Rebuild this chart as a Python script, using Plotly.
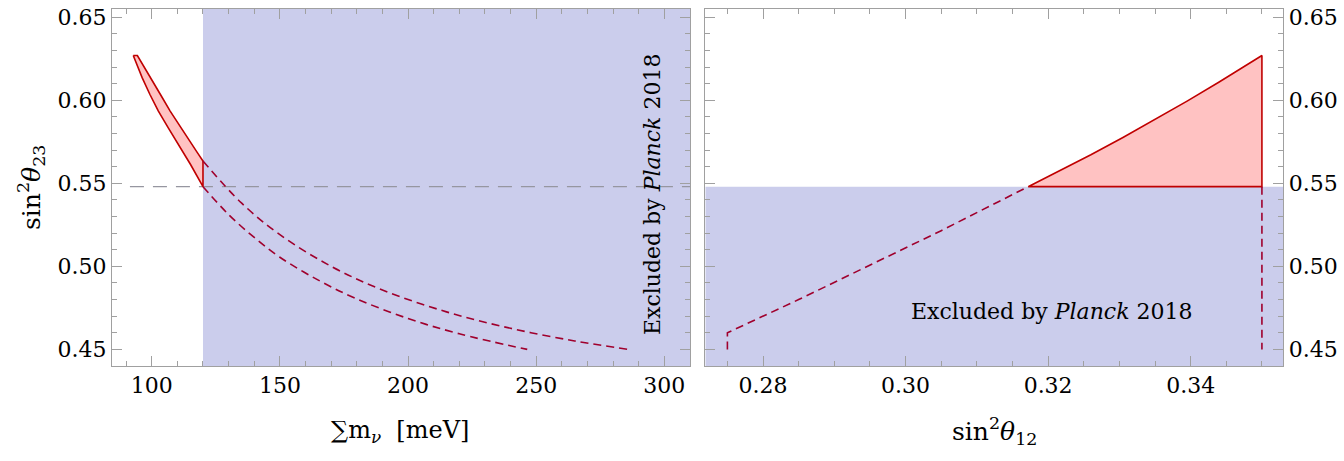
import plotly.graph_objects as go

# ---------------- data ----------------
# Left panel: sum of neutrino masses [meV] vs sin^2(theta23)
allowed_lower_mass = [92.8, 94.5, 96.3, 99.3, 102.6, 106.4, 110.4, 115.2, 120.0]
allowed_lower_s23 = [0.627, 0.620, 0.6135, 0.6035, 0.5935, 0.5835, 0.5735, 0.5612, 0.548]
allowed_upper_mass = [120.0, 117.8, 115.7, 111.4, 107.2, 103.4, 99.7, 97.0, 94.4]
allowed_upper_s23 = [0.5635, 0.5685, 0.5735, 0.5835, 0.5935, 0.6035, 0.6135, 0.620, 0.627]

excl_lower_mass = [120.0, 130.0, 140.0, 150.0, 165.0, 180.0, 200.0, 220.0, 246.5]
excl_lower_s23 = [0.548, 0.5312, 0.5174, 0.5055, 0.4917, 0.4804, 0.4686, 0.4594, 0.450]
excl_upper_mass = [120.0, 135.0, 150.0, 170.0, 190.0, 215.0, 240.0, 265.0, 285.9]
excl_upper_s23 = [0.5635, 0.5382, 0.5191, 0.5000, 0.4858, 0.4726, 0.4627, 0.4551, 0.450]

planck_mass_bound = 120.0
s23_bound = 0.548
ref_line_mass = [91.5, 310.0]

# Right panel: sin^2(theta12) vs sin^2(theta23)
allowed_s12 = [0.3172, 0.3215, 0.3260, 0.3305, 0.3350, 0.3395, 0.3440, 0.3470, 0.3500, 0.3500]
allowed_s23 = [0.548, 0.5572, 0.5672, 0.5776, 0.5884, 0.5995, 0.6110, 0.6189, 0.627, 0.548]
excl_s12 = [0.2750, 0.2750, 0.2850, 0.2950, 0.3050, 0.3172]
excl_s23 = [0.450, 0.460, 0.480, 0.5005, 0.5215, 0.548]
edge_s12 = [0.3500, 0.3500]
edge_s23 = [0.548, 0.450]

mass_range = [84.5, 310.0]
s12_range = [0.2719, 0.3530]
s23_range = [0.440, 0.655]

mass_ticks = [100, 150, 200, 250, 300]
s12_ticks = [0.28, 0.30, 0.32, 0.34]
s23_ticks = [0.45, 0.50, 0.55, 0.60, 0.65]

label_text = "Excluded by <i>Planck</i> 2018"

# ---------------- style ----------------
BLUE = "rgb(203,205,236)"
PINK = "rgb(255,194,194)"
RED = "rgb(192,0,0)"
DASHRED = "rgb(160,0,45)"
GRAY = "rgb(150,150,160)"
AXC = "rgb(160,160,160)"
FONT = "DejaVu Serif"

fig = go.Figure()

# left panel
fig.add_trace(go.Scatter(
    x=[planck_mass_bound, mass_range[1], mass_range[1], planck_mass_bound],
    y=[s23_range[0], s23_range[0], s23_range[1], s23_range[1]],
    fill="toself", fillcolor=BLUE, line=dict(width=0), mode="lines",
    xaxis="x", yaxis="y", hoverinfo="skip"))
fig.add_trace(go.Scatter(
    x=ref_line_mass, y=[s23_bound, s23_bound], mode="lines",
    line=dict(color=GRAY, width=1.2, dash="14px,9px"), xaxis="x", yaxis="y"))
fig.add_trace(go.Scatter(
    x=allowed_lower_mass + allowed_upper_mass + [allowed_lower_mass[0]],
    y=allowed_lower_s23 + allowed_upper_s23 + [allowed_lower_s23[0]],
    fill="toself", fillcolor=PINK, mode="lines",
    line=dict(color=RED, width=1.6), xaxis="x", yaxis="y"))
for xs, ys in [(excl_lower_mass, excl_lower_s23), (excl_upper_mass, excl_upper_s23)]:
    fig.add_trace(go.Scatter(
        x=xs, y=ys, mode="lines",
        line=dict(color=DASHRED, width=1.6, dash="8px,5px", shape="spline"),
        xaxis="x", yaxis="y"))

# right panel
fig.add_trace(go.Scatter(
    x=[s12_range[0], s12_range[1], s12_range[1], s12_range[0]],
    y=[s23_range[0], s23_range[0], s23_bound, s23_bound],
    fill="toself", fillcolor=BLUE, line=dict(width=0), mode="lines",
    xaxis="x2", yaxis="y2", hoverinfo="skip"))
fig.add_trace(go.Scatter(
    x=allowed_s12 + [allowed_s12[0]], y=allowed_s23 + [allowed_s23[0]],
    fill="toself", fillcolor=PINK, mode="lines",
    line=dict(color=RED, width=1.6), xaxis="x2", yaxis="y2"))
fig.add_trace(go.Scatter(
    x=excl_s12, y=excl_s23, mode="lines",
    line=dict(color=DASHRED, width=1.6, dash="8px,5px"), xaxis="x2", yaxis="y2"))
fig.add_trace(go.Scatter(
    x=edge_s12, y=edge_s23, mode="lines",
    line=dict(color=DASHRED, width=1.6, dash="8px,5px"), xaxis="x2", yaxis="y2"))

tickfont = dict(family=FONT, size=22, color="black")
common = dict(showgrid=False, zeroline=False, showline=True, linecolor=AXC, linewidth=1,
              mirror="allticks", ticks="inside", ticklen=10, tickcolor=AXC, tickwidth=1,
              tickfont=tickfont, automargin=False)

fig.update_layout(
    width=1344, height=461, margin=dict(l=0, r=0, t=0, b=0),
    paper_bgcolor="white", plot_bgcolor="white", showlegend=False,
    font=dict(family=FONT, size=22, color="black"),
    xaxis=dict(domain=[0.08333, 0.51339], range=mass_range, tickvals=mass_ticks,
               minor=dict(ticks="inside", dtick=10, tick0=0, ticklen=5, tickcolor=AXC),
               anchor="y", **common),
    yaxis=dict(domain=[0.20607, 0.98048], range=s23_range, tickvals=s23_ticks,
               tickformat=".2f",
               minor=dict(ticks="inside", dtick=0.01, tick0=0, ticklen=5, tickcolor=AXC),
               anchor="x", **common),
    xaxis2=dict(domain=[0.52478, 0.95484], range=s12_range, tickvals=s12_ticks,
                tickformat=".2f",
                minor=dict(ticks="inside", dtick=0.005, tick0=0, ticklen=5, tickcolor=AXC),
                anchor="y2", **common),
    yaxis2=dict(domain=[0.20607, 0.98048], range=s23_range, tickvals=s23_ticks,
                tickformat=".2f", side="right",
                minor=dict(ticks="inside", dtick=0.01, tick0=0, ticklen=5, tickcolor=AXC),
                anchor="x2", **common),
)

fig.add_annotation(x=295.6, y=0.543, xref="x", yref="y", text=label_text, textangle=-90,
                   xanchor="center", yanchor="middle",
                   showarrow=False, font=dict(family=FONT, size=22, color="black"))
fig.add_annotation(x=0.3205, y=0.473, xref="x2", yref="y2", text=label_text,
                   xanchor="center", yanchor="middle",
                   showarrow=False, font=dict(family=FONT, size=22, color="black"))
fig.add_annotation(x=400 / 1344, y=(461 - 431) / 461, xref="paper", yref="paper",
                   xanchor="center", yanchor="middle",
                   text="∑m<sub><i>ν</i></sub>  [meV]", showarrow=False,
                   font=dict(family=FONT, size=24, color="black"))
fig.add_annotation(x=994 / 1344, y=(461 - 431) / 461, xref="paper", yref="paper",
                   xanchor="center", yanchor="middle",
                   text="sin<sup>2</sup><i>θ</i><sub>12</sub>", showarrow=False,
                   font=dict(family=FONT, size=25, color="black"))
fig.add_annotation(x=31 / 1344, y=(461 - 188) / 461, xref="paper", yref="paper",
                   xanchor="center", yanchor="middle",
                   text="sin<sup>2</sup><i>θ</i><sub>23</sub>", textangle=-90, showarrow=False,
                   font=dict(family=FONT, size=25, color="black"))

fig.write_html("out.html")
